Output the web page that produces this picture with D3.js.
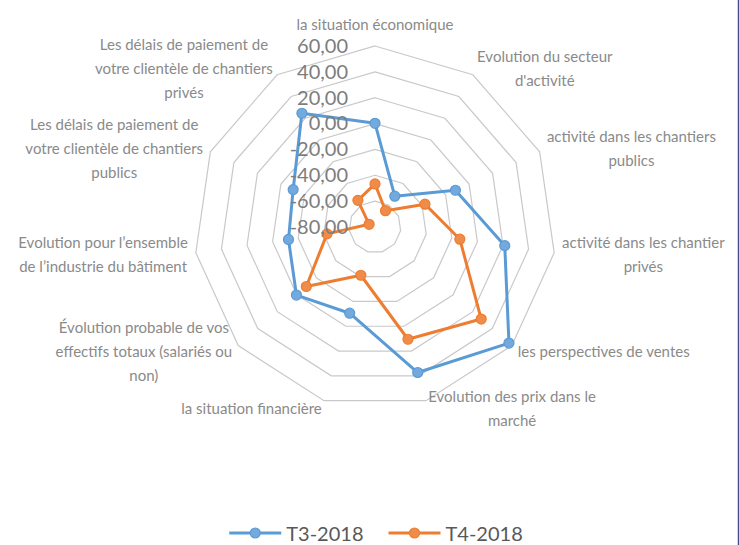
<!DOCTYPE html>
<html lang="fr">
<head>
<meta charset="utf-8" />
<title>Indicateurs T3-2018 / T4-2018</title>
<style>
  body { margin: 0; background: #fff; }
  svg { display: block; font-family: Lato, "Open Sans", sans-serif; }
  .ring { fill: none; stroke: #c9c9c9; stroke-width: 1.2; }
  .cat { fill: #8a8a8a; font-size: 15px; }
</style>
<script src="https://d3js.org/d3.v7.min.js"></script>
</head>
<body>
<svg width="740" height="545"></svg>
<script>
const categories = [
  'la situation économique',
  "Evolution du secteur\nd'activité",
  'activité dans les chantiers\npublics',
  'activité dans les chantier\nprivés',
  'les perspectives de ventes',
  'Evolution des prix dans le\nmarché',
  'la situation financière',
  'Évolution probable de vos\neffectifs totaux (salariés ou\nnon)',
  'Evolution pour l’ensemble\nde l’industrie du bâtiment',
  'Les délais de paiement de\nvotre clientèle de chantiers\npublics',
  'Les délais de paiement de\nvotre clientèle de chantiers\nprivés'
];
const seriesNames = ['T3-2018', 'T4-2018'];
const t3 = [0.2, -51.7, -11.6, 21.4, 57.1, 37.3, -10.5, 0.4, -12.4, -10.4, 24.6];
const t4 = [-46.7, -65, -37.5, -13.7, 28.7, 10.5, -41.1, -9.7, -42.5, -75, -55.5];
const ticks = [-80, -60, -40, -20, 0, 20, 40, 60];

const svg = d3.select('svg');
const cx = 375, cy = 227, R = 181;
const colors = ['#5b9bd5', '#ed7d31'];
const markerFill = ['#73a9dc', '#f08c4a'];

const r = d3.scaleLinear().domain([-80, 60]).range([0, R]);
const angle = d3.scaleLinear().domain([0, categories.length]).range([0, 2 * Math.PI]);
const radial = d3.lineRadial()
  .angle((d, i) => angle(i))
  .radius(d => r(d))
  .curve(d3.curveLinearClosed);

const g = svg.append('g').attr('transform', `translate(${cx},${cy})`);

// grid rings
g.selectAll('.ring')
  .data(ticks.slice(1))
  .enter()
  .append('path')
  .attr('class', 'ring')
  .attr('d', v => radial(categories.map(() => v)));

// value axis labels
const y = d3.scaleLinear().domain([-80, 60]).range([cy, cy - R]);
const fmt = d3.formatLocale({
  decimal: ',', thousands: ' ', grouping: [3], currency: ['', ''], minus: '-'
}).format('.2f');
svg.append('g')
  .attr('transform', `translate(${cx},0)`)
  .call(d3.axisLeft(y).tickValues(ticks).tickSize(0).tickPadding(27).tickFormat(fmt))
  .call(a => a.select('.domain').remove())
  .attr('font-size', 20)
  .attr('font-family', 'Lato, "Open Sans", sans-serif')
  .selectAll('text')
  .attr('fill', '#7d7d7d');

// category labels
const LH = 24;
categories.forEach((c, i) => {
  const a = angle(i), s = Math.sin(a), co = Math.cos(a);
  const px = cx + s * (R + 8), py = cy - co * (R + 8);
  const lines = c.split('\n');
  const t = svg.append('text').attr('class', 'cat');
  lines.forEach(l => t.append('tspan').text(l));
  const w = d3.max(t.selectAll('tspan').nodes(), n => n.getComputedTextLength());
  const h = lines.length * LH;
  const vertical = Math.abs(s) < 0.1;
  const mid = vertical ? px : s > 0 ? px + w / 2 : px - w / 2;
  const top = vertical ? (co > 0 ? py - h - 2 : py) : py - h / 2;
  t.selectAll('tspan')
    .attr('x', mid)
    .attr('y', (d, k) => top + LH * (k + 0.5))
    .attr('dominant-baseline', 'central')
    .attr('text-anchor', 'middle');
});

// series
[t3, t4].forEach((vals, si) => {
  g.append('path')
    .attr('d', radial(vals))
    .attr('fill', 'none')
    .attr('stroke', colors[si])
    .attr('stroke-width', 3)
    .attr('stroke-linejoin', 'round');
  g.selectAll(null)
    .data(vals)
    .enter()
    .append('circle')
    .attr('cx', (d, i) => Math.sin(angle(i)) * r(d))
    .attr('cy', (d, i) => -Math.cos(angle(i)) * r(d))
    .attr('r', 5)
    .attr('fill', markerFill[si])
    .attr('stroke', colors[si])
    .attr('stroke-width', 1.2);
});

// legend
const legend = svg.append('g');
let lx = 0;
seriesNames.forEach((name, si) => {
  const item = legend.append('g').attr('transform', `translate(${lx},0)`);
  item.append('line')
    .attr('x1', 0).attr('x2', 52)
    .attr('stroke', colors[si]).attr('stroke-width', 3);
  item.append('circle')
    .attr('cx', 26).attr('r', 5)
    .attr('fill', markerFill[si]).attr('stroke', colors[si]).attr('stroke-width', 1.2);
  const txt = item.append('text')
    .attr('x', 57)
    .attr('dominant-baseline', 'central')
    .attr('font-size', 20)
    .attr('fill', '#595959')
    .text(name);
  lx += 57 + txt.node().getComputedTextLength() + 25;
});
const lw = lx - 25;
legend.attr('transform', `translate(${376 - lw / 2},533)`);

// window edge
svg.append('line')
  .attr('x1', 738.5).attr('x2', 738.5).attr('y1', 0).attr('y2', 545)
  .attr('stroke', '#4a4a8c').attr('stroke-width', 1.5);
</script>
</body>
</html>
